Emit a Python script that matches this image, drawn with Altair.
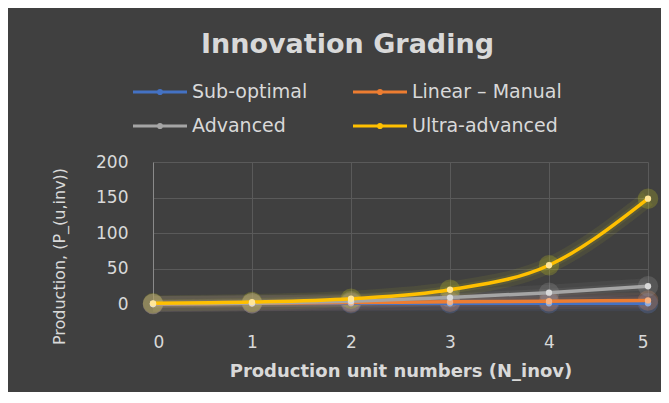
import altair as alt
import pandas as pd

# ---- data ----
x_vals = [0, 1, 2, 3, 4, 5]
series_names = ["Sub-optimal", "Linear – Manual", "Advanced", "Ultra-advanced"]
sub_optimal = [0, 1, 1, 1, 1, 1]
linear_manual = [0, 1, 2, 3, 4, 5]
advanced = [0, 1, 4, 9, 16, 25]
ultra_advanced = [1, 2.7, 7.4, 20.1, 54.6, 148.4]

line_colors = ["#4472C4", "#ED7D31", "#A5A5A5", "#FFC000"]
point_colors = ["#8FAADC", "#F4B183", "#D9D9D9", "#FFE699"]
glow_colors = ["#5B7FD0", "#E08A5A", "#9A9A9A", "#C8C820"]

FONT = "DejaVu Sans"

rows = []
for i, (name, vals) in enumerate(zip(series_names, [sub_optimal, linear_manual, advanced, ultra_advanced])):
    for xv, yv in zip(x_vals, vals):
        rows.append({"x": xv, "y": yv, "series": name, "order": i})
df = pd.DataFrame(rows)

X = alt.X("x:Q", scale=alt.Scale(domain=[0, 5], nice=False),
          axis=alt.Axis(values=x_vals, title="Production unit numbers (N_inov)",
                        labelPadding=30, titlePadding=12, grid=True, domain=False, ticks=False,
                        labelFontSize=17, titleFontSize=18, titleFontWeight="bold"))
Y = alt.Y("y:Q", scale=alt.Scale(domain=[0, 200], nice=False),
          axis=alt.Axis(values=[0, 50, 100, 150, 200], title="Production, (P_(u,inv))",
                        labelPadding=25, titlePadding=28, titleY=94, grid=True, domain=True,
                        domainColor="#8A8A8A", ticks=False,
                        labelFontSize=17, titleFontSize=16, titleFontWeight="normal"))

base = alt.Chart(df)

# legend symbol: a line with a dot, drawn wider than the nominal symbol size
sym_path = "M-2,0L2,0M0.12,0A0.12,0.12,0,1,1,-0.12,0A0.12,0.12,0,1,1,0.12,0"

glow_scale = alt.Scale(domain=series_names, range=glow_colors)

glow_line = base.mark_line(interpolate="monotone", strokeWidth=16, opacity=0.09).encode(
    x=X, y=Y,
    color=alt.Color("series:N", sort=series_names, scale=glow_scale, legend=None),
    order="order:Q")
glow_line2 = base.mark_line(interpolate="monotone", strokeWidth=8, opacity=0.11).encode(
    x=X, y=Y,
    color=alt.Color("series:N", sort=series_names, scale=glow_scale, legend=None),
    order="order:Q")
glow_pts = base.mark_circle(size=420, opacity=0.25).encode(
    x=X, y=Y,
    color=alt.Color("series:N", sort=series_names, scale=glow_scale, legend=None))

lines = base.mark_line(interpolate="monotone", strokeWidth=3.5).encode(
    x=X, y=Y,
    color=alt.Color("series:N", sort=series_names,
                    scale=alt.Scale(domain=series_names, range=line_colors),
                    legend=alt.Legend(title=None, orient="none", legendX=-8, legendY=-85,
                                      direction="horizontal",
                                      columns=2, columnPadding=39, rowPadding=9,
                                      symbolType=sym_path, symbolSize=729, symbolStrokeWidth=3,
                                      labelFontSize=19, labelColor="#D9D9D9", labelOffset=17)),
    order="order:Q")

points = base.mark_circle(size=40, opacity=1).encode(
    x=X, y=Y,
    color=alt.Color("series:N", sort=series_names,
                    scale=alt.Scale(domain=series_names, range=point_colors), legend=None))

chart = alt.layer(glow_line, glow_line2, glow_pts, lines, points).resolve_scale(
    color="independent"
).properties(
    width=495, height=142,
    autosize="none",
    padding={"left": 145, "top": 154, "right": 13, "bottom": 88},
    background="#404040",
    title=alt.Title("Innovation Grading", fontSize=27, fontWeight="bold", color="#D9D9D9",
                    anchor="middle", dx=-53, offset=18, font=FONT),
).configure(font=FONT).configure_view(stroke=None).configure_axis(
    labelColor="#D9D9D9", titleColor="#D9D9D9", gridColor="#5A5A5A", gridWidth=1,
    labelFont=FONT, titleFont=FONT
).configure_legend(labelFont=FONT)

chart.save("out.html", embed_options={"renderer": "svg", "actions": False})
